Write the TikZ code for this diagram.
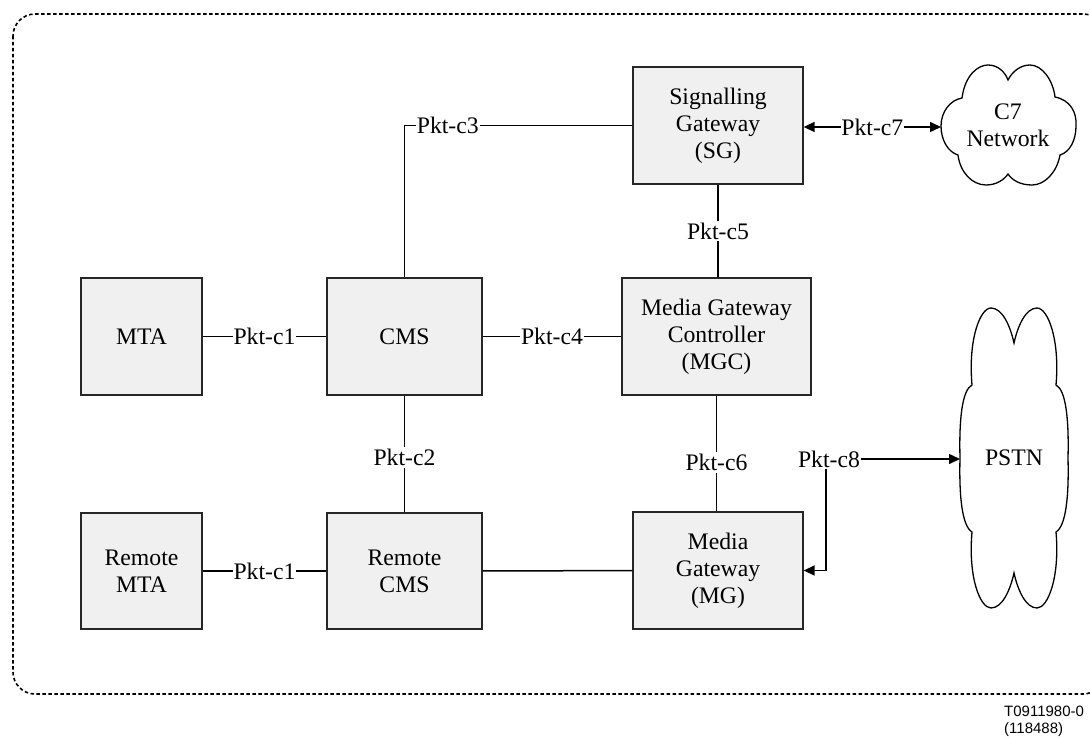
\documentclass[tikz,border=0pt]{standalone}
\usepackage{fontspec}
\setmainfont{Liberation Serif}
\newfontfamily\figsans{Liberation Sans}
\usetikzlibrary{arrows.meta,calc}
\tikzset{
  unit/.style={draw=black!85, line width=1.3pt, fill=black!6, align=center,
    font=\fontsize{23.7}{27}\selectfont, inner sep=0pt},
  conn/.style={line width=1.5pt, black},
  lbl/.style={fill=white, inner xsep=1pt, inner ysep=2pt, font=\fontsize{23.7}{27}\selectfont},
  arr/.style={-{Triangle[length=11pt,width=10pt]}},
  cloudline/.style={line width=1.3pt, black},
  border/.style={line width=1.6pt, dash pattern=on 3.5pt off 2.5pt, rounded corners=22pt}
}
\begin{document}
\begin{tikzpicture}[x=1pt,y=-1pt]
\useasboundingbox (0,0) rectangle (1090,738);
\draw[border] (13,14) rectangle (1105,694);

% boxes
\node[unit, minimum width=121pt, minimum height=117pt] (mta) at (141.5,336.5) {MTA};
\node[unit, minimum width=155pt, minimum height=117pt] (cms) at (404.5,336.5) {CMS};
\node[unit, minimum width=189pt, minimum height=117pt] (mgc) at (716.5,336.5) {Media Gateway\\Controller\\(MGC)};
\node[unit, minimum width=170pt, minimum height=117pt] (sg) at (718,125.5) {Signalling\\Gateway\\(SG)};
\node[unit, minimum width=170pt, minimum height=117pt] (mg) at (718,570.5) {Media\\Gateway\\(MG)};
\node[unit, minimum width=121pt, minimum height=116pt] (rmta) at (141.5,571) {Remote\\MTA};
\node[unit, minimum width=155pt, minimum height=116pt] (rcms) at (404.5,571) {Remote\\CMS};

% clouds
\draw[cloudline] (962,98) .. controls (965,75) and (978,65) .. (988,65)
  .. controls (998,65) and (1005,72) .. (1008,80)
  .. controls (1012,72) and (1020,65) .. (1030,65)
  .. controls (1042,65) and (1053,80) .. (1055,97)
  .. controls (1070,100) and (1077,112) .. (1076,126)
  .. controls (1076,140) and (1070,152) .. (1060,155)
  .. controls (1057,172) and (1045,185) .. (1032,185)
  .. controls (1020,185) and (1012,180) .. (1008,174)
  .. controls (1004,180) and (996,185) .. (986,185)
  .. controls (972,185) and (960,172) .. (958,155)
  .. controls (948,152) and (941,140) .. (941,126)
  .. controls (941,112) and (950,100) .. (962,98) -- cycle;
\node[align=center, font=\fontsize{23.7}{27}\selectfont] (c7) at (1008,125) {C7\\Network};
\coordinate (c7w) at (941,127);

\draw[cloudline] (972,385) .. controls (968,340) and (980,308) .. (991,308)
  .. controls (1002,308) and (1010,325) .. (1014,343)
  .. controls (1018,325) and (1026,308) .. (1037,308)
  .. controls (1048,308) and (1060,340) .. (1056,385)
  .. controls (1066,390) and (1069,420) .. (1068,458)
  .. controls (1069,496) and (1066,526) .. (1056,532)
  .. controls (1060,577) and (1048,608) .. (1037,608)
  .. controls (1026,608) and (1018,591) .. (1014,573)
  .. controls (1010,591) and (1002,608) .. (991,608)
  .. controls (980,608) and (968,577) .. (972,532)
  .. controls (962,526) and (959,496) .. (960,458)
  .. controls (959,420) and (962,390) .. (972,385) -- cycle;
\node[font=\fontsize{23.7}{27}\selectfont] (pstn) at (1014,458) {PSTN};
\coordinate (pstnw) at (960,459);

% connectors
\draw[conn] (mta) -- node[lbl] (l1) {Pkt-c1} (cms);
\draw[conn] (rmta) -- node[lbl] (l1b) {Pkt-c1} (rcms);
\draw[conn] (cms) -- node[lbl] (l4) {Pkt-c4} (mgc);
\draw[conn] (cms.north) |- node[lbl, pos=0.595] (l3) {Pkt-c3} (sg.west);
\draw[conn] (cms.south) -- node[lbl, pos=0.53] (l2) {Pkt-c2} (rcms.north);
\draw[conn] (sg.south) -- node[lbl] (l5) {Pkt-c5} (sg.south |- mgc.north);
\draw[conn] (mgc.south) -- node[lbl, pos=0.58] (l6) {Pkt-c6} (mgc.south |- mg.north);
\draw[conn] (rcms) -- (mg);
\draw[conn, {Triangle[length=11pt,width=10pt]}-{Triangle[length=11pt,width=10pt]}] (sg.east |- c7w) -- node[lbl, inner xsep=0.5pt] (l7) {Pkt-c7} (c7w);
\node[font=\fontsize{23.7}{27}\selectfont, inner sep=1pt] (l8) at (829,459) {Pkt-c8};
\draw[conn, arr] (l8.east) -- (pstnw);
\draw[conn, arr] ([xshift=-3pt]l8.south) |- (mg.east);

\node[anchor=west, align=left, font=\figsans\fontsize{15}{17}\selectfont, inner sep=0pt] (ref) at (1004,721.5) {T0911980-0\\(118488)};
\end{tikzpicture}
\end{document}
